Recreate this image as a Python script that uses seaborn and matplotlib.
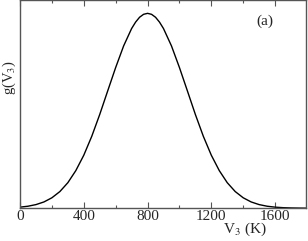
import pandas as pd
import matplotlib
matplotlib.use("Agg")
import matplotlib.pyplot as plt
import seaborn as sns
from matplotlib.ticker import MultipleLocator

sns.set_theme(style="ticks")
plt.rcParams['font.family'] = ['Liberation Serif', 'DejaVu Serif']
plt.rcParams['mathtext.fontset'] = 'stix'

# V3 (K) and g(V3) (peak normalised to 1)
v3 = [0, 50, 100, 150, 200, 250, 300, 350, 400, 450, 500, 550, 600, 650, 700, 725, 750,
      775, 800, 825, 850, 875, 900, 950, 1000, 1050, 1100, 1150, 1200, 1250, 1300, 1350,
      1400, 1450, 1500, 1550, 1600, 1650, 1700, 1750, 1800]
g = [0.0055, 0.0103, 0.0186, 0.0322, 0.0536, 0.0855, 0.131, 0.193, 0.272, 0.369,
     0.481, 0.602, 0.722, 0.833, 0.922, 0.955, 0.980, 0.995, 1.0, 0.995, 0.980, 0.955,
     0.922, 0.833, 0.722, 0.602, 0.481, 0.369, 0.272, 0.193, 0.131, 0.0855, 0.0536,
     0.0322, 0.0186, 0.0103, 0.0055, 0.0028, 0.0014, 0.0007, 0.0003]
x_ticks = [0, 400, 800, 1200, 1600]

df = pd.DataFrame({'V3': v3, 'g': g})

fig = plt.figure(figsize=(3.08, 2.41), dpi=100)
ax = fig.add_axes([0.065, 0.136, 0.928, 0.862])
sns.lineplot(data=df, x='V3', y='g', color='black', linewidth=1.0, ax=ax)

ax.set_xlim(0, 1793)
ax.set_ylim(0, 1.066)
ax.set_xticks(x_ticks)
ax.xaxis.set_minor_locator(MultipleLocator(200))
ax.set_yticks([])
ax.tick_params(axis='x', which='both', direction='in', top=True, labelsize=11, pad=1.5,
               color='#555555')
ax.tick_params(axis='x', which='major', length=4, width=0.8)
ax.tick_params(axis='x', which='minor', length=2.5, width=0.8)
for sp in ax.spines.values():
    sp.set_color('#555555')
    sp.set_linewidth(1.0)

ax.set_xlabel(r'V$_3$ (K)', fontsize=11)
ax.xaxis.set_label_coords(0.787, -0.06)
ax.set_ylabel(r'g(V$_3$)', fontsize=10.5)
ax.yaxis.set_label_coords(-0.008, 0.63)
ax.text(0.857, 0.90, '(a)', transform=ax.transAxes, fontsize=11, ha='center', va='center')

fig.savefig('out.png', dpi=100)
